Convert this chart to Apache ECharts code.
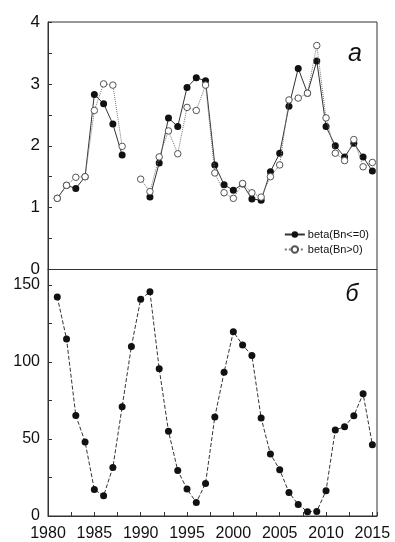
<!DOCTYPE html>
<html>
<head>
<meta charset="utf-8">
<script src="https://cdn.jsdelivr.net/npm/echarts@6/dist/echarts.min.js"></script>
<style>
  html, body { margin: 0; padding: 0; background: #fff; }
  #main { width: 395px; height: 542px; }
</style>
</head>
<body>
<div id="main"></div>
<script>
const years = [1981, 1982, 1983, 1984, 1985, 1986, 1987, 1988, 1989, 1990,
  1991, 1992, 1993, 1994, 1995, 1996, 1997, 1998, 1999, 2000,
  2001, 2002, 2003, 2004, 2005, 2006, 2007, 2008, 2009, 2010,
  2011, 2012, 2013, 2014, 2015];

// beta(Bn<=0), filled circles
const betaNeg = [1.15, 1.36, 1.31, 1.50, 2.83, 2.68, 2.35, 1.85, null, null,
  1.17, 1.72, 2.45, 2.31, 2.94, 3.10, 3.05, 1.69, 1.37, 1.28,
  1.38, 1.14, 1.12, 1.58, 1.88, 2.64, 3.25, 2.85, 3.37, 2.31,
  2.00, 1.82, 2.04, 1.82, 1.59];

// beta(Bn>0), open circles
const betaPos = [1.15, 1.36, 1.49, 1.50, 2.57, 3.00, 2.98, 1.99, null, 1.46,
  1.26, 1.82, 2.24, 1.87, 2.62, 2.57, 2.98, 1.56, 1.24, 1.15,
  1.39, 1.24, 1.17, 1.50, 1.69, 2.74, 2.77, 2.85, 3.62, 2.45,
  1.88, 1.76, 2.10, 1.66, 1.73];

// panel b
const sunspots = [142.2, 114.9, 65.3, 48.1, 17.2, 13.1, 31.5, 70.9, 110.1, 140.7,
  145.5, 95.5, 55.0, 29.5, 17.5, 8.8, 21.1, 64.2, 93.3, 119.6,
  111.0, 104.1, 63.6, 40.3, 30.0, 15.3, 7.5, 2.8, 3.0, 16.4,
  55.8, 58.0, 65.1, 79.3, 46.3];

const legendNames = ['beta(Bn<=0)', 'beta(Bn>0)'];
const panelLabels = ['a', 'б'];

const pairs = (vals) => years.map((y, i) => [y, vals[i]]);

const font = 'Liberation Sans';
const axisColor = '#333';

const xAxisBase = {
  type: 'value', min: 1980, max: 2015.5, interval: 2.5,
  axisLine: { lineStyle: { color: axisColor } },
  axisTick: { inside: true, length: 4, lineStyle: { color: axisColor } },
  splitLine: { show: false }
};

const chart = echarts.init(document.getElementById('main'));
chart.setOption({
  animation: false,
  backgroundColor: '#fff',
  grid: [
    { left: 48, right: 18, top: 22, height: 247.5, show: true, borderColor: axisColor, borderWidth: 1 },
    { left: 48, right: 18, top: 269.5, height: 248, show: true, borderColor: axisColor, borderWidth: 1 }
  ],
  xAxis: [
    Object.assign({}, xAxisBase, { gridIndex: 0, axisLabel: { show: false }, axisTick: { show: false } }),
    Object.assign({}, xAxisBase, {
      gridIndex: 1,
      axisLabel: {
        margin: 10, fontSize: 16, color: '#111', fontFamily: font,
        formatter: (v) => (v % 5 === 0 ? String(v) : '')
      }
    })
  ],
  yAxis: [
    {
      type: 'value', gridIndex: 0, min: 0, max: 4, interval: 0.5,
      axisLine: { show: true, lineStyle: { color: axisColor } },
      axisTick: { show: true, inside: true, length: 4, lineStyle: { color: axisColor } },
      splitLine: { show: false },
      axisLabel: {
        margin: 8, fontSize: 17, color: '#111', fontFamily: font,
        formatter: (v) => (Number.isInteger(v) ? String(v) : '')
      }
    },
    {
      type: 'value', gridIndex: 1, min: 0, max: 160, interval: 25,
      axisLine: { show: true, lineStyle: { color: axisColor } },
      axisTick: { show: true, inside: true, length: 4, lineStyle: { color: axisColor } },
      splitLine: { show: false },
      axisLabel: {
        margin: 8, fontSize: 16, color: '#111', fontFamily: font,
        formatter: (v) => (v % 50 === 0 ? String(v) : '')
      }
    }
  ],
  legend: {
    orient: 'vertical', right: 26, top: 229, itemGap: 4,
    itemWidth: 20, itemHeight: 8, padding: 0,
    data: legendNames,
    textStyle: { fontSize: 11, color: '#111', fontFamily: font, padding: [0, 0, 0, -2] }
  },
  graphic: [
    { type: 'text', style: { x: 355, y: 54, text: panelLabels[0], align: 'center', verticalAlign: 'middle',
      font: 'italic 25px "Liberation Sans"', fill: '#111' } },
    { type: 'text', style: { x: 352, y: 295, text: panelLabels[1], align: 'center', verticalAlign: 'middle',
      font: 'italic 23px "Liberation Sans"', fill: '#111' } }
  ],
  series: [
    {
      name: legendNames[0], type: 'line', xAxisIndex: 0, yAxisIndex: 0,
      data: pairs(betaNeg), symbol: 'circle', symbolSize: 7,
      itemStyle: { color: '#111' },
      lineStyle: { color: '#333', width: 1 },
      z: 2
    },
    {
      name: legendNames[1], type: 'line', xAxisIndex: 0, yAxisIndex: 0,
      data: pairs(betaPos), symbol: 'circle', symbolSize: 6.5,
      itemStyle: { color: '#fff', borderColor: '#555', borderWidth: 1 },
      lineStyle: { color: '#777', width: 1, type: 'dotted' },
      z: 3
    },
    {
      name: 'б', type: 'line', xAxisIndex: 1, yAxisIndex: 1,
      data: pairs(sunspots), symbol: 'circle', symbolSize: 7,
      itemStyle: { color: '#111' },
      lineStyle: { color: '#333', width: 1, type: [4, 2] }
    }
  ]
});
</script>
</body>
</html>
